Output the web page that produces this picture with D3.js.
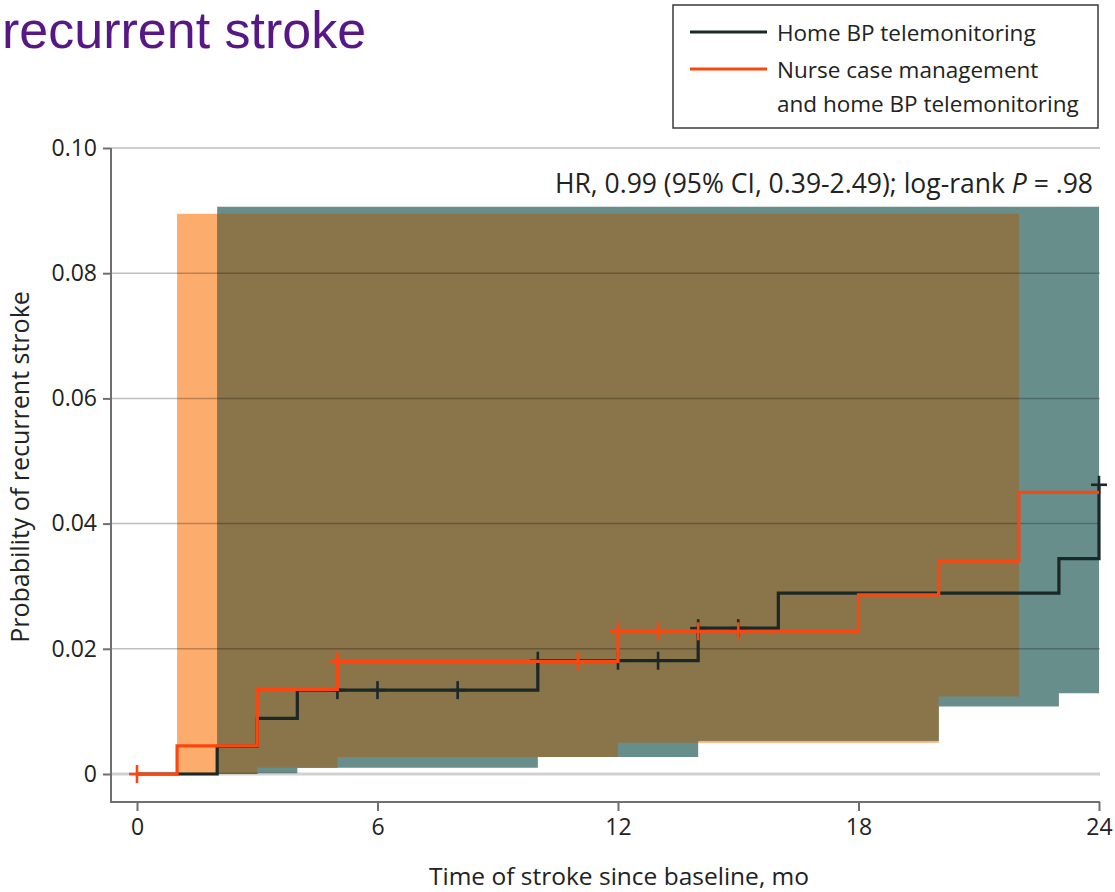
<!DOCTYPE html>
<html>
<head>
<meta charset="utf-8">
<script src="https://cdn.jsdelivr.net/npm/d3@7"></script>
<style>
  body { margin: 0; background: #fff; }
  svg text { font-family: "Open Sans", sans-serif; fill: #222; }
</style>
</head>
<body>
<svg width="1115" height="892"></svg>
<script>
// Kaplan-Meier cumulative incidence
const homeMonths = [0, 2, 3, 4, 10, 14, 16, 23, 24];
const homeProb   = [0, 0.0044, 0.0089, 0.0134, 0.0181, 0.0233, 0.0289, 0.0344, 0.0462];
const homeCensor = [5, 6, 8, 10, 12, 13, 14, 15, 24];

const nurseMonths = [0, 1, 3, 5, 12, 18, 20, 22, 24];
const nurseProb   = [0, 0.0045, 0.0135, 0.018, 0.0228, 0.0286, 0.034, 0.045, 0.045];
const nurseCensor = [0, 5, 11, 12, 13, 14, 15];

// 95% confidence bands (step functions)
const homeCiMonths = [2, 3, 4, 10, 14, 20, 23, 24];
const homeCiLower  = [0, 0.0001, 0.001, 0.0027, 0.0053, 0.0108, 0.0129, 0.0129];
const homeCiUpper  = [0.0906, 0.0906, 0.0906, 0.0906, 0.0906, 0.0906, 0.0906, 0.0906];

const nurseCiMonths = [1, 3, 5, 12, 20, 22];
const nurseCiLower  = [0, 0.001, 0.0027, 0.005, 0.0124, 0.0124];
const nurseCiUpper  = [0.0895, 0.0895, 0.0895, 0.0895, 0.0895, 0.0895];

const xTicks = [0, 6, 12, 18, 24];
const yTicks = [0, 0.02, 0.04, 0.06, 0.08, 0.10];

const legendLabels = [["Home BP telemonitoring"], ["Nurse case management", "and home BP telemonitoring"]];
const statText = "HR, 0.99 (95% CI, 0.39-2.49); log-rank ";

const BLACK = "#1b2828", ORANGE = "#fb470f";

const svg = d3.select("svg");
const x = d3.scaleLinear().domain([0, 24]).range([137, 1099]);
const y = d3.scaleLinear().domain([0, 0.1]).range([774, 148]);

function stepAt(months, vals, t) {
  let v = vals[0];
  months.forEach((m, i) => { if (m <= t) v = vals[i]; });
  return v;
}

const band = d3.area().curve(d3.curveStepAfter)
  .x(d => x(d.m)).y0(d => y(d.lo)).y1(d => y(d.hi));

const nurseBand = nurseCiMonths.map((m, i) => ({m, lo: nurseCiLower[i], hi: nurseCiUpper[i]}));
const homeBand = homeCiMonths.map((m, i) => ({m, lo: homeCiLower[i], hi: homeCiUpper[i]}));

// overlap of both bands
const t0 = Math.max(nurseCiMonths[0], homeCiMonths[0]);
const t1 = Math.min(nurseCiMonths[nurseCiMonths.length - 1], homeCiMonths[homeCiMonths.length - 1]);
const breaks = Array.from(new Set(nurseCiMonths.concat(homeCiMonths, [t0, t1])))
  .filter(t => t >= t0 && t <= t1).sort((a, b) => a - b);
const overlap = breaks.map(t => ({
  m: t,
  lo: Math.max(stepAt(nurseCiMonths, nurseCiLower, t), stepAt(homeCiMonths, homeCiLower, t)),
  hi: Math.min(stepAt(nurseCiMonths, nurseCiUpper, t), stepAt(homeCiMonths, homeCiUpper, t))
}));

svg.append("path").datum(nurseBand).attr("d", band).attr("fill", "#fcad6d");
svg.append("path").datum(homeBand).attr("d", band).attr("fill", "#688e8c");
svg.append("path").datum(overlap).attr("d", band).attr("fill", "#8a754a");

// gridlines
svg.append("g").selectAll("line").data(yTicks).join("line")
  .attr("x1", 111).attr("x2", x(24) + 1)
  .attr("y1", d => y(d)).attr("y2", d => y(d))
  .attr("stroke", d => d === 0 ? "rgba(0,0,0,0.18)" : "rgba(0,0,0,0.25)")
  .attr("stroke-width", d => d === 0 ? 3 : 1.5);

// step lines
const step = d3.line().curve(d3.curveStepAfter).x(d => x(d[0])).y(d => y(d[1]));
function drawSeries(months, probs, censor, color) {
  const pts = months.map((m, i) => [m, probs[i]]);
  svg.append("path").datum(pts).attr("d", step)
    .attr("fill", "none").attr("stroke", color).attr("stroke-width", 3.2);
  const g = svg.append("g").attr("stroke", color).attr("stroke-width", 2.6);
  censor.forEach(c => {
    const cx = x(c), cy = y(stepAt(months, probs, c));
    g.append("line").attr("x1", cx).attr("x2", cx).attr("y1", cy - 9).attr("y2", cy + 9);
    g.append("line").attr("x1", cx - 8).attr("x2", cx + 8).attr("y1", cy).attr("y2", cy);
  });
}
drawSeries(homeMonths, homeProb, homeCensor, BLACK);
drawSeries(nurseMonths, nurseProb, nurseCensor, ORANGE);

// axes
const axisColor = "#6f6f6f";
const yFmt = d3.format(".2f");
const yAxis = svg.append("g").attr("transform", "translate(111,0)")
  .call(d3.axisLeft(y).tickValues(yTicks).tickFormat(d => d === 0 ? "0" : yFmt(d)).tickSize(8).tickPadding(6));
const xAxis = svg.append("g").attr("transform", "translate(0,802)")
  .call(d3.axisBottom(x).tickValues(xTicks).tickSize(9).tickPadding(8));
[yAxis, xAxis].forEach(a => {
  a.select(".domain").remove();
  a.selectAll(".tick line").attr("stroke", axisColor).attr("stroke-width", 2);
  a.selectAll(".tick text").style("font-size", "23px").style("font-family", "'Open Sans', sans-serif").attr("fill", "#222");
});
svg.append("line").attr("x1", 111).attr("x2", 111).attr("y1", y(0.1)).attr("y2", 803)
  .attr("stroke", axisColor).attr("stroke-width", 2);
svg.append("line").attr("x1", 110).attr("x2", x(24) + 1).attr("y1", 802).attr("y2", 802)
  .attr("stroke", axisColor).attr("stroke-width", 2);

// axis titles
svg.append("text").attr("x", 619).attr("y", 885).attr("text-anchor", "middle")
  .style("font-size", "24.5px").text("Time of stroke since baseline, mo");
svg.append("text").attr("transform", "translate(29,467) rotate(-90)").attr("text-anchor", "middle")
  .style("font-size", "25px").text("Probability of recurrent stroke");

// statistics note
const st = svg.append("text").attr("x", 1093).attr("y", 193).attr("text-anchor", "end").style("font-size", "26.5px");
st.append("tspan").text(statText);
st.append("tspan").style("font-style", "italic").text("P");
st.append("tspan").text(" = .98");

// legend
svg.append("rect").attr("x", 673).attr("y", 5).attr("width", 425).attr("height", 123)
  .attr("fill", "#fff").attr("stroke", "#3a3a3a").attr("stroke-width", 1.5);
const legColors = [BLACK, ORANGE];
const legY = [32, 69];
legendLabels.forEach((lines, i) => {
  svg.append("line").attr("x1", 690).attr("x2", 767).attr("y1", legY[i]).attr("y2", legY[i])
    .attr("stroke", legColors[i]).attr("stroke-width", 3.2);
  lines.forEach((t, j) => {
    svg.append("text").attr("x", 777).attr("y", legY[i] + 9 + j * 34)
      .style("font-size", "22.5px").text(t);
  });
});

// title fragment
svg.append("text").attr("x", 2).attr("y", 48)
  .style("font-family", "'Liberation Sans', Arial, sans-serif").style("font-size", "52px")
  .style("fill", "#571785").text("recurrent stroke");
</script>
</body>
</html>
